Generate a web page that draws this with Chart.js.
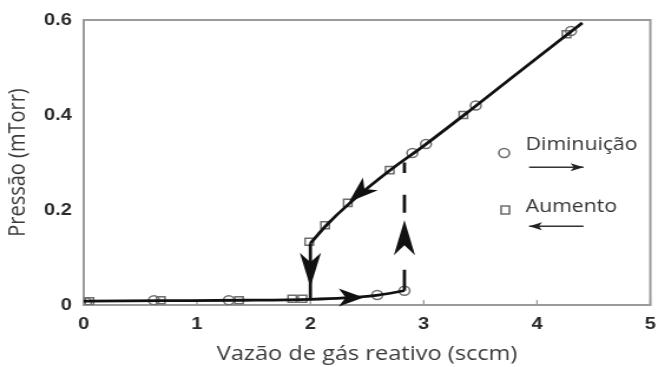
<!DOCTYPE html>
<html>
<head>
<meta charset="utf-8">
<script src="https://cdn.jsdelivr.net/npm/chart.js@4.4.0/dist/chart.umd.min.js"></script>
<style>
  html, body { margin: 0; padding: 0; background: #fff; overflow: hidden; }
  /* the figure is drawn narrower and widened to 658px */
  #wrap { width: 558px; height: 367px; transform: scaleX(1.1792); transform-origin: 0 0; }
</style>
</head>
<body>
<div id="wrap"><canvas id="chart"></canvas></div>
<script>
// Diminuição (circles)
const decreaseX = [0.02, 0.62, 1.28, 2.59, 2.83, 2.90, 3.02, 3.46, 4.30];
const decreaseY = [0.006, 0.010, 0.010, 0.021, 0.030, 0.320, 0.339, 0.420, 0.577];
// Aumento (squares)
const increaseX = [0.05, 0.68, 1.37, 1.84, 1.93, 1.99, 2.13, 2.33, 2.70, 3.35, 4.26];
const increaseY = [0.008, 0.010, 0.010, 0.013, 0.013, 0.133, 0.168, 0.215, 0.284, 0.400, 0.570];

// branch curves
const lowerCurveX = [0, 0.7, 1.4, 2.0, 2.3, 2.6, 2.83];
const lowerCurveY = [0.008, 0.009, 0.010, 0.012, 0.015, 0.021, 0.030];
const upperCurveX = [2.0, 2.15, 2.35, 2.7, 3.0, 3.4, 4.0, 4.4];
const upperCurveY = [0.130, 0.170, 0.215, 0.283, 0.335, 0.408, 0.520, 0.594];

// jumps between the branches (null = gap in the dashes)
const dropX = [2.0, 2.0];
const dropY = [0.130, 0.010];
const riseX = [2.83, 2.83, 2.83, 2.83, 2.83, 2.83, 2.83, 2.83];
const riseY = [0.030, 0.074, null, 0.194, 0.232, null, 0.278, 0.300];

// arrowheads along the path: tip and tail points
const arrowTipX = [2.0, 2.47, 2.34, 2.83];
const arrowTipY = [0.038, 0.016, 0.217, 0.179];
const arrowTailX = [2.0, 2.25, 2.53, 2.83];
const arrowTailY = [0.110, 0.016, 0.255, 0.105];

const xTicks = [0, 1, 2, 3, 4, 5];
const yTicks = [0, 0.2, 0.4, 0.6];

const toPoints = (xs, ys) => xs.map((x, i) => ({ x, y: ys[i] }));

const titleFont = { family: 'Open Sans', size: 20 };
const tickFont = { family: 'Liberation Sans', size: 17, weight: 'bold' };

function stealth(ctx, tx, ty, bx, by, halfW, notch) {
    const dx = tx - bx, dy = ty - by;
    const len = Math.hypot(dx, dy);
    const ux = dx / len, uy = dy / len;
    const px = -uy, py = ux;
    ctx.beginPath();
    ctx.moveTo(tx, ty);
    ctx.lineTo(bx + px * halfW, by + py * halfW);
    ctx.lineTo(bx + ux * len * notch, by + uy * len * notch);
    ctx.lineTo(bx - px * halfW, by - py * halfW);
    ctx.closePath();
    ctx.fill();
}

const framePlugin = {
    id: 'frame',
    beforeDatasetsDraw(chart) {
        const { ctx, chartArea: a, scales } = chart;
        ctx.save();
        ctx.strokeStyle = '#9a9a9a';
        ctx.lineWidth = 2;
        ctx.strokeRect(a.left, a.top, a.right - a.left, a.bottom - a.top);
        // short inward ticks on the x axis
        ctx.lineWidth = 1.3;
        xTicks.forEach(v => {
            const px = scales.x.getPixelForValue(v);
            ctx.beginPath();
            ctx.moveTo(px, a.bottom);
            ctx.lineTo(px, a.bottom - 5);
            ctx.stroke();
        });
        ctx.restore();
    },
    afterDatasetsDraw(chart) {
        const { ctx, scales: { x, y } } = chart;
        ctx.save();
        ctx.fillStyle = '#111';
        arrowTipX.forEach((v, i) => {
            stealth(ctx,
                x.getPixelForValue(v), y.getPixelForValue(arrowTipY[i]),
                x.getPixelForValue(arrowTailX[i]), y.getPixelForValue(arrowTailY[i]),
                9, 0.28);
        });

        // legend with direction arrows
        const items = [
            { label: 'Diminuição', mark: 'circle', lx: 3.71, ly: 0.32, ty: 0.337, ay: 0.29, dir: 1 },
            { label: 'Aumento', mark: 'rect', lx: 3.72, ly: 0.20, ty: 0.206, ay: 0.166, dir: -1 }
        ];
        items.forEach(it => {
            const mx = x.getPixelForValue(it.lx), my = y.getPixelForValue(it.ly);
            ctx.strokeStyle = '#6e6e6e';
            ctx.lineWidth = 1.6;
            ctx.beginPath();
            if (it.mark === 'circle') ctx.arc(mx, my, 4.5, 0, Math.PI * 2);
            else ctx.rect(mx - 3.5, my - 4, 7, 8);
            ctx.stroke();

            ctx.fillStyle = '#333';
            ctx.font = '18px "Open Sans"';
            ctx.textBaseline = 'middle';
            ctx.textAlign = 'left';
            ctx.fillText(it.label, x.getPixelForValue(3.9), y.getPixelForValue(it.ty));

            const x0 = x.getPixelForValue(3.93), x1 = x.getPixelForValue(4.41);
            const ay = y.getPixelForValue(it.ay);
            ctx.strokeStyle = '#333';
            ctx.lineWidth = 1.5;
            ctx.beginPath();
            ctx.moveTo(x0, ay);
            ctx.lineTo(x1, ay);
            ctx.stroke();
            ctx.fillStyle = '#222';
            if (it.dir > 0) stealth(ctx, x1, ay, x1 - 11, ay, 4, 0.25);
            else stealth(ctx, x0, ay, x0 + 11, ay, 4, 0.25);
        });
        ctx.restore();
    }
};

const lineStyle = {
    showLine: true,
    borderColor: '#111',
    borderWidth: 2.8,
    pointRadius: 0,
    fill: false
};

new Chart(document.getElementById('chart'), {
    type: 'scatter',
    data: {
        datasets: [
            { ...lineStyle, label: 'lower', data: toPoints(lowerCurveX, lowerCurveY), cubicInterpolationMode: 'monotone' },
            { ...lineStyle, label: 'upper', data: toPoints(upperCurveX, upperCurveY), cubicInterpolationMode: 'monotone' },
            { ...lineStyle, label: 'drop', data: toPoints(dropX, dropY) },
            { ...lineStyle, label: 'rise', data: toPoints(riseX, riseY), spanGaps: false },
            {
                label: 'Diminuição',
                data: toPoints(decreaseX, decreaseY),
                pointStyle: 'circle',
                pointRadius: 4.5,
                borderColor: '#6e6e6e',
                borderWidth: 1.5,
                backgroundColor: 'rgba(0,0,0,0)'
            },
            {
                label: 'Aumento',
                data: toPoints(increaseX, increaseY),
                pointStyle: 'rect',
                pointRadius: 5,
                borderColor: '#6e6e6e',
                borderWidth: 1.5,
                backgroundColor: 'rgba(0,0,0,0)'
            }
        ]
    },
    options: {
        responsive: true,
        maintainAspectRatio: false,
        animation: false,
        layout: { padding: { left: 0, right: 5, top: 20, bottom: 0 } },
        plugins: {
            legend: { display: false },
            tooltip: { enabled: false }
        },
        scales: {
            x: {
                type: 'linear',
                min: 0,
                max: 5,
                afterBuildTicks: s => { s.ticks = xTicks.map(value => ({ value })); },
                afterFit: s => { s.height = 62; },
                grid: { display: false },
                border: { display: false },
                ticks: { font: tickFont, color: '#2a2a2a', padding: 1 },
                title: { display: true, text: 'Vazão de gás reativo (sccm)', font: titleFont, color: '#3a3a3a', padding: { top: 0, bottom: 1 } }
            },
            y: {
                type: 'linear',
                min: 0,
                max: 0.6,
                afterBuildTicks: s => { s.ticks = yTicks.map(value => ({ value })); },
                afterFit: s => { s.width = 71; },
                grid: { display: false },
                border: { display: false },
                ticks: {
                    font: tickFont,
                    color: '#2a2a2a',
                    padding: 2,
                    callback: v => (v === 0 ? '0' : v.toFixed(1))
                },
                title: { display: true, text: 'Pressão (mTorr)', font: titleFont, color: '#3a3a3a', padding: { top: 3, bottom: 0 } }
            }
        }
    },
    plugins: [framePlugin]
});
</script>
</body>
</html>
